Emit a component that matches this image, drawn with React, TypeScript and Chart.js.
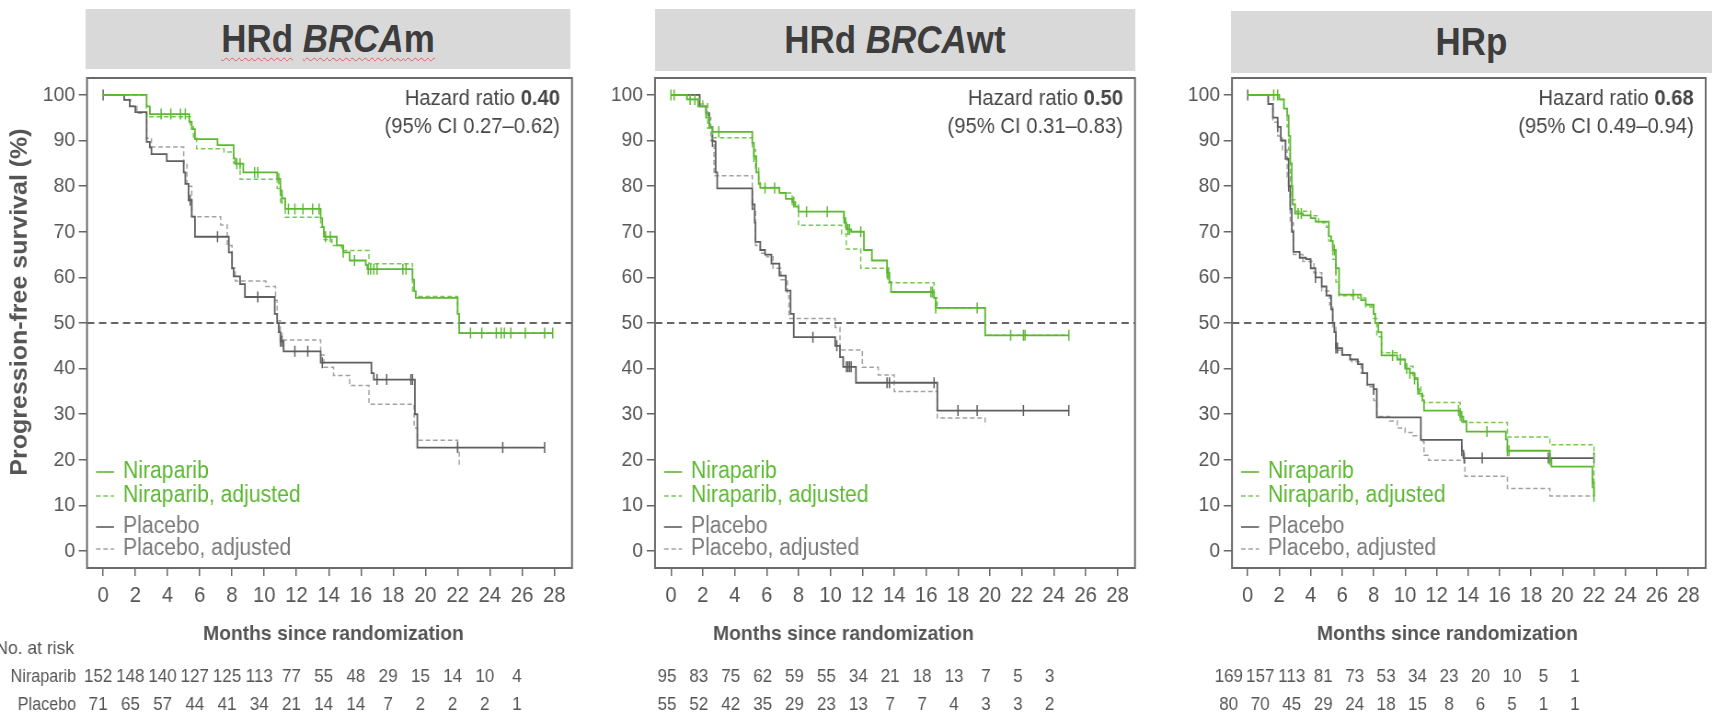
import React, { useEffect, useRef } from "react";
import { Chart, registerables } from "chart.js";
Chart.register(...registerables);

const SX = 0.92;
const PAGE_W = 1712;
const PAGE_H = 714;
const FONT = "'Liberation Sans', Arial, Helvetica, sans-serif";

const X_MIN = -1.0;
const X_MAX = 29.1;
const Y_MIN = -3.7;
const Y_MAX = 103.7;
const X_TICKS = [0, 2, 4, 6, 8, 10, 12, 14, 16, 18, 20, 22, 24, 26, 28];
const Y_TICKS = [0, 10, 20, 30, 40, 50, 60, 70, 80, 90, 100];
const RISK_TIMES = [0, 2, 4, 6, 8, 10, 12, 14, 16, 18, 20, 22, 24, 26];
const REF_Y = 50;

const GREEN = "#5cb832";
const GREEN_ADJ = "#78c850";
const GRAY = "#5e5e5e";
const GRAY_ADJ = "#a2a2a2";

type Step = [number, number];

// ---------- Panel 1: HRd BRCAm ----------
const P1_NIR: Step[] = [[0,100],[2.7,97.5],[2.9,95.8],[5.35,94.1],[5.5,92.5],[5.7,90.3],[7.1,89.0],[8.1,86.1],[8.2,84.9],[8.7,83.0],[10.8,81.6],[11.0,79.0],[11.1,77.3],[11.3,75.0],[13.5,73.0],[13.6,71.0],[13.7,68.9],[14.5,67.0],[14.9,65.5],[15.3,63.7],[16.3,62.7],[16.4,61.8],[19.2,59.5],[19.3,57.0],[19.4,55.5],[22.0,52.0],[22.1,47.8],[27.9,47.8]];
const P1_NIR_CENS = [3.6,4.2,4.8,5.1,8.3,8.5,9.4,9.6,10.9,11.0,11.1,11.5,11.9,12.4,13.0,13.4,13.8,14.1,14.9,15.6,16.45,16.6,16.8,17.0,18.6,18.8,22.8,23.5,24.4,24.7,24.9,25.3,26.2,27.4,27.9];
const P1_NIR_ADJ: Step[] = [[0,100],[2.7,97],[2.9,95.2],[5.4,93],[5.6,90.5],[5.8,88.2],[7.5,87.5],[8.1,85],[8.5,81.5],[10.8,79.5],[11.0,76.5],[11.3,73.2],[13.5,71],[13.7,68.3],[14.2,67],[14.8,65.9],[16.5,63],[19.2,57],[19.4,55.8],[22.0,52],[22.1,47.8],[27.9,47.8]];
const P1_PLA: Step[] = [[0,100],[1.3,98.9],[1.65,97.5],[2.0,96.2],[2.7,89.7],[2.9,88.5],[3.0,87.0],[3.95,85.5],[5.0,83.0],[5.1,80.5],[5.3,76.9],[5.5,73.3],[5.7,68.9],[7.8,65.5],[8.0,62.0],[8.1,60.2],[8.5,58.5],[8.8,55.7],[10.65,52.0],[10.8,50.0],[10.9,48.0],[11.0,46.0],[11.2,43.8],[13.5,41.3],[16.65,39.0],[16.8,37.6],[19.35,30.0],[19.5,22.7],[27.4,22.7]];
const P1_PLA_CENS = [0,5.4,7.1,9.6,11.0,11.1,11.9,12.7,13.6,17.0,17.6,19.1,19.2,22.0,24.8,27.4];
const P1_PLA_ADJ: Step[] = [[0,100],[1.3,99],[1.7,97.5],[2.1,96],[2.7,90.5],[3.0,88.6],[5.0,85.0],[5.2,80.0],[5.5,73.3],[7.3,71.5],[7.7,67.0],[8.0,62.0],[8.2,59.2],[10.1,58.0],[10.7,55.0],[10.8,50.5],[11.0,48.0],[11.1,46.3],[13.5,43.0],[13.7,40.3],[14.3,38.5],[15.3,36.3],[16.5,32.2],[19.3,27.0],[19.5,24.3],[22.0,22.0],[22.1,18.3]];
const P1_RISK_NIR = [152,148,140,127,125,113,77,55,48,29,15,14,10,4];
const P1_RISK_PLA = [71,65,57,44,41,34,21,14,14,7,2,2,2,1];

// ---------- Panel 2: HRd BRCAwt ----------
const P2_NIR: Step[] = [[0,100],[1.0,99],[1.7,97.5],[2.2,95],[2.4,93],[2.6,91.9],[5.1,89.5],[5.2,86.5],[5.35,83],[5.5,80.5],[5.6,79.6],[6.8,78.5],[7.2,77.2],[7.6,76.5],[7.8,75.5],[8.0,74.4],[10.85,73],[10.9,72],[11.0,70.5],[11.3,70],[12.1,66],[12.6,63.7],[13.55,61],[13.7,59],[13.8,56.8],[16.5,55.5],[16.6,53.3],[19.7,47.3],[24.95,47.3]];
const P2_NIR_CENS = [0,0.2,1.2,1.5,3.0,5.2,5.9,6.5,7.7,8.5,9.8,10.85,10.95,11.1,11.2,11.9,13.55,13.65,16.3,16.4,16.6,19.2,21.3,22.1,22.2,24.95];
const P2_NIR_ADJ: Step[] = [[0,100],[1.0,99],[2.0,98],[2.3,92.7],[2.6,90.6],[5.1,88],[5.3,84],[5.5,81],[5.6,79.7],[6.8,78.5],[7.6,76],[8.0,71.4],[10.7,69.5],[11.0,66.2],[11.9,62],[13.6,58.8],[16.5,55.5],[16.7,53.3],[19.7,47.3],[24.95,47.3]];
const P2_PLA: Step[] = [[0,100],[1.8,97.5],[2.2,96],[2.4,93],[2.6,89.8],[2.8,83],[2.9,79.5],[5.1,76],[5.25,72],[5.3,67.8],[5.6,66],[5.9,65],[6.3,63],[6.8,60.4],[7.2,57.1],[7.5,52],[7.7,46.9],[10.3,45],[10.6,42.5],[10.8,40.4],[11.6,36.9],[16.7,30.8],[24.95,30.8]];
const P2_PLA_CENS = [2.6,5.1,8.9,10.4,11.0,11.1,11.2,11.3,13.55,13.7,16.5,18.0,19.2,22.1,24.95];
const P2_PLA_ADJ: Step[] = [[0,100],[1.8,98],[2.3,95],[2.5,90],[2.7,82.3],[5.1,75],[5.3,67],[5.6,65.3],[6.0,64.5],[6.4,62],[6.9,59.5],[7.3,56],[7.4,51],[10.3,49],[10.6,44.1],[12.0,40.3],[13.0,38.6],[14.0,35.0],[16.7,29.2],[19.6,29.2],[19.7,27.5]];
const P2_RISK_NIR = [95,83,75,62,59,55,34,21,18,13,7,5,3];
const P2_RISK_PLA = [55,52,42,35,29,23,13,7,7,4,3,3,2];

// ---------- Panel 3: HRp ----------
const P3_NIR: Step[] = [[0,100],[2.0,99],[2.3,97],[2.5,95.5],[2.6,91],[2.7,85],[2.8,80],[2.85,76],[3.0,74],[3.5,73.6],[4.0,73],[4.3,72.2],[5.15,69],[5.3,68],[5.4,66],[5.6,62],[5.8,56.2],[7.2,55],[7.5,54],[8.0,52],[8.1,50],[8.3,48],[8.5,42.9],[9.5,42],[10.0,40],[10.3,39],[10.6,37.7],[10.8,35.5],[10.9,34.5],[11.1,33],[11.2,30.8],[13.5,29.5],[13.7,28.5],[13.9,26.2],[16.4,24.5],[16.5,22],[19.2,20],[19.3,18.5],[21.9,15],[22.0,12]];
const P3_NIR_CENS = [1.65,1.9,3.2,3.4,5.5,5.6,6.7,9.2,9.7,10.1,10.3,10.6,10.8,13.4,13.6,15.2,16.5,16.6,19.2,21.9,22.0];
const P3_NIR_ADJ: Step[] = [[0,100],[2.0,99],[2.3,97],[2.5,93],[2.6,88],[2.7,82],[2.8,77],[3.0,74.5],[4.0,73.5],[4.5,72],[5.0,71],[5.15,68],[5.4,64],[5.6,59],[5.8,56],[7.0,55.5],[7.5,53.5],[8.0,51],[8.2,47],[8.5,43.5],[9.5,42],[10.0,40.5],[10.5,38],[10.8,36],[11.0,34],[11.2,32.6],[13.5,28.2],[16.5,25.0],[19.2,23.3],[21.85,23.3],[22.0,12]];
const P3_PLA: Step[] = [[0,100],[1.3,98],[1.6,95],[1.9,93],[2.1,90],[2.4,86],[2.6,80],[2.7,75],[2.8,70],[2.9,65.6],[3.3,64.3],[3.7,64],[4.0,62],[4.3,60],[4.7,58],[5.0,56],[5.3,53],[5.4,50],[5.5,48],[5.6,44.5],[6.0,43],[6.5,42],[7.0,41],[7.3,39],[7.6,36.5],[8.0,35.5],[8.2,29.3],[11.0,24.4],[13.6,22],[13.7,20.4],[22.0,20.4]];
const P3_PLA_CENS = [0,1.9,2.6,4.3,5.6,5.7,8.0,13.6,13.75,14.9,19.1,19.2,22.0];
const P3_PLA_ADJ: Step[] = [[0,100],[1.3,98],[1.6,94],[1.9,91],[2.2,88],[2.5,82],[2.7,72],[2.9,65],[3.5,63.5],[4.2,61],[4.7,57],[5.2,54],[5.4,49],[5.6,44],[6.0,43],[6.6,41.5],[7.2,39],[7.6,36],[8.0,33],[8.2,29.5],[9.0,28.5],[9.5,27],[10.0,26],[10.5,25.3],[11.0,24],[11.2,21],[11.5,19.9],[13.8,16.4],[16.5,13.7],[19.2,12.1],[22.0,12.1]];
const P3_RISK_NIR = [169,157,113,81,73,53,34,23,20,10,5,1];
const P3_RISK_PLA = [80,70,45,29,24,18,15,8,6,5,1,1];

const LEGEND_LABELS = ["Niraparib", "Niraparib, adjusted", "Placebo", "Placebo, adjusted"];
const Y_TITLE = "Progression-free survival (%)";
const X_TITLE = "Months since randomization";

// ---------- layout (full-page px) ----------
const BOX_T = 78;
const BOX_B = 568;
const Y_W = 50; // unscaled y-scale width

interface PanelCfg {
  key: string;
  canvasL: number;
  canvasR: number;
  boxL: number;
  boxR: number;
  nir: Step[]; nirC: number[]; nirAdj: Step[];
  pla: Step[]; plaC: number[]; plaAdj: Step[];
  hr: string; ci: string;
  riskNir: number[]; riskPla: number[]; riskShift: number;
  xTitleL: number;
  first: boolean;
}

const PANELS: PanelCfg[] = [
  { key: "p1", canvasL: 0, canvasR: 640, boxL: 87, boxR: 572, nir: P1_NIR, nirC: P1_NIR_CENS, nirAdj: P1_NIR_ADJ, pla: P1_PLA, plaC: P1_PLA_CENS, plaAdj: P1_PLA_ADJ, hr: "0.40", ci: "(95% CI 0.27\u20130.62)", riskNir: P1_RISK_NIR, riskPla: P1_RISK_PLA, riskShift: -5, xTitleL: 203, first: true },
  { key: "p2", canvasL: 640, canvasR: 1280, boxL: 655, boxR: 1135, nir: P2_NIR, nirC: P2_NIR_CENS, nirAdj: P2_NIR_ADJ, pla: P2_PLA, plaC: P2_PLA_CENS, plaAdj: P2_PLA_ADJ, hr: "0.50", ci: "(95% CI 0.31\u20130.83)", riskNir: P2_RISK_NIR, riskPla: P2_RISK_PLA, riskShift: -4, xTitleL: 713, first: false },
  { key: "p3", canvasL: 1280, canvasR: Math.ceil(PAGE_W / SX), boxL: 1232, boxR: 1711, nir: P3_NIR, nirC: P3_NIR_CENS, nirAdj: P3_NIR_ADJ, pla: P3_PLA, plaC: P3_PLA_CENS, plaAdj: P3_PLA_ADJ, hr: "0.68", ci: "(95% CI 0.49\u20130.94)", riskNir: P3_RISK_NIR, riskPla: P3_RISK_PLA, riskShift: -19, xTitleL: 1317, first: false },
];

function sAt(steps: Step[], t: number): number {
  let v = steps[0][1];
  for (const [tt, s] of steps) {
    if (tt <= t + 1e-9) v = s;
    else break;
  }
  return v;
}

function buildPoints(steps: Step[], cens: number[] = []) {
  const pts = steps.map(([x, y]) => ({ x, y, c: false }));
  for (const t of cens) pts.push({ x: t, y: sAt(steps, t), c: true });
  pts.sort((a, b) => a.x - b.x || (a.c === b.c ? 0 : a.c ? 1 : -1));
  return pts;
}

function curve(data: any[], color: string, dashed: boolean) {
  return {
    data,
    borderColor: color,
    borderWidth: dashed ? 1.5 : 1.8,
    borderDash: dashed ? [5, 3] : [],
    stepped: "before" as const,
    fill: false,
    pointStyle: "line" as const,
    rotation: 90,
    pointRadius: (ctx: any) => (ctx.raw && ctx.raw.c ? 5.5 : 0),
    pointBorderColor: color,
    pointBackgroundColor: color,
    pointBorderWidth: 1.5,
    pointHoverRadius: 0,
  };
}

function makePlugin(p: PanelCfg) {
  const fx = (xFull: number) => xFull / SX - p.canvasL;
  return {
    id: "decor_" + p.key,
    afterDraw(chart: any) {
      const { ctx, chartArea: a, scales } = chart;
      const xs = scales.x;
      ctx.save();
      // plot box
      ctx.strokeStyle = "#6a6a6a";
      ctx.lineWidth = 2;
      ctx.strokeRect(a.left, a.top, a.right - a.left, a.bottom - a.top);

      // hazard ratio
      ctx.textBaseline = "middle";
      ctx.textAlign = "right";
      ctx.fillStyle = "#464646";
      const R = a.right - 12 / SX;
      ctx.font = `bold 22px ${FONT}`;
      const bw = ctx.measureText(p.hr).width;
      ctx.fillText(p.hr, R, 99);
      ctx.font = `22px ${FONT}`;
      ctx.fillText("Hazard ratio ", R - bw, 99);
      ctx.fillText(p.ci, R, 127);

      // legend inside box
      const legY = [472, 496, 527, 549];
      const legC = [GREEN, GREEN_ADJ, GRAY, GRAY_ADJ];
      const legT = [GREEN, GREEN, "#7a7a7a", "#7a7a7a"];
      ctx.textAlign = "left";
      ctx.font = `23px ${FONT}`;
      for (let i = 0; i < 4; i++) {
        ctx.beginPath();
        ctx.strokeStyle = legC[i];
        ctx.lineWidth = 1.6;
        ctx.setLineDash(i % 2 === 1 ? [5, 3] : []);
        ctx.moveTo(a.left + 9 / SX, legY[i]);
        ctx.lineTo(a.left + 27 / SX, legY[i]);
        ctx.stroke();
        ctx.setLineDash([]);
        ctx.fillStyle = legT[i];
        ctx.fillText(LEGEND_LABELS[i], a.left + 36 / SX, legY[i]);
      }

      // x axis title
      ctx.fillStyle = "#555";
      ctx.font = `bold 21px ${FONT}`;
      ctx.textAlign = "left";
      ctx.fillText(X_TITLE, fx(p.xTitleL), 634);

      // risk table
      ctx.font = `18.5px ${FONT}`;
      ctx.textAlign = "center";
      ctx.fillStyle = "#555";
      p.riskNir.forEach((v, i) => {
        ctx.fillText(String(v), xs.getPixelForValue(RISK_TIMES[i]) + p.riskShift / SX, 677);
      });
      p.riskPla.forEach((v, i) => {
        ctx.fillText(String(v), xs.getPixelForValue(RISK_TIMES[i]) + p.riskShift / SX, 705);
      });

      if (p.first) {
        ctx.textAlign = "right";
        ctx.font = `19px ${FONT}`;
        ctx.fillText("No. at risk", fx(74), 649);
        ctx.font = `17.5px ${FONT}`;
        ctx.fillText("Niraparib", fx(76), 677);
        ctx.fillText("Placebo", fx(76), 705);
        // y title
        ctx.save();
        ctx.translate(fx(20), 302);
        ctx.rotate(-Math.PI / 2);
        ctx.textAlign = "center";
        ctx.font = `bold 25px ${FONT}`;
        ctx.fillStyle = "#555";
        ctx.fillText(Y_TITLE, 0, 0);
        ctx.restore();
      }
      ctx.restore();
    },
  };
}

function PanelChart({ p }: { p: PanelCfg }) {
  const ref = useRef<HTMLCanvasElement | null>(null);
  const W = p.canvasR - p.canvasL;
  useEffect(() => {
    if (!ref.current) return;
    const padL = p.boxL / SX - p.canvasL - Y_W;
    const padR = p.canvasR - p.boxR / SX;
    const chart = new Chart(ref.current, {
      type: "line",
      data: {
        datasets: [
          curve(buildPoints(p.nir, p.nirC), GREEN, false),
          curve(buildPoints(p.nirAdj), GREEN_ADJ, true),
          curve(buildPoints(p.pla, p.plaC), GRAY, false),
          curve(buildPoints(p.plaAdj), GRAY_ADJ, true),
          {
            data: [{ x: X_MIN, y: REF_Y }, { x: X_MAX, y: REF_Y }],
            borderColor: "#333",
            borderWidth: 1.5,
            borderDash: [8, 5],
            pointRadius: 0,
            fill: false,
          },
        ] as any,
      },
      options: {
        animation: false,
        responsive: false,
        events: [],
        layout: { padding: { left: padL, right: padR, top: BOX_T, bottom: 0 } },
        plugins: { legend: { display: false }, tooltip: { enabled: false }, title: { display: false } },
        scales: {
          x: {
            type: "linear",
            min: X_MIN,
            max: X_MAX,
            afterBuildTicks: (s: any) => { s.ticks = X_TICKS.map((v) => ({ value: v })); },
            afterFit: (s: any) => { s.height = PAGE_H - BOX_B; },
            grid: { display: true, drawOnChartArea: false, drawTicks: true, tickLength: 8, color: "#666", lineWidth: 1.5 },
            border: { display: false },
            ticks: { autoSkip: false, maxRotation: 0, padding: 7, color: "#555", font: { family: FONT, size: 22 } },
          },
          y: {
            type: "linear",
            min: Y_MIN,
            max: Y_MAX,
            afterBuildTicks: (s: any) => { s.ticks = Y_TICKS.map((v) => ({ value: v })); },
            afterFit: (s: any) => { s.width = Y_W; },
            grid: { display: true, drawOnChartArea: false, drawTicks: true, tickLength: 9, color: "#666", lineWidth: 1.5 },
            border: { display: false },
            ticks: { autoSkip: false, padding: 4, color: "#555", font: { family: FONT, size: 21 } },
          },
        },
      } as any,
      plugins: [makePlugin(p)],
    });
    return () => chart.destroy();
  }, []);
  return (
    <canvas
      ref={ref}
      width={W}
      height={PAGE_H}
      style={{ position: "absolute", left: p.canvasL, top: 0, width: W, height: PAGE_H }}
    />
  );
}

const wavy: React.CSSProperties = {
  textDecorationLine: "underline",
  textDecorationStyle: "wavy",
  textDecorationColor: "#e06060",
  textDecorationThickness: "1px",
  textUnderlineOffset: "5px",
};

const TITLES = [
  { l: 86, t: 9, w: 484, h: 60, node: (<><span style={wavy}>HRd</span>{" "}<span style={wavy}><i>BRCA</i>m</span></>) },
  { l: 655, t: 9, w: 480, h: 62, node: (<>HRd <i>BRCA</i>wt</>) },
  { l: 1231, t: 11, w: 481, h: 62, node: (<>HRp</>) },
];

export default function App() {
  useEffect(() => {
    document.body.style.margin = "0";
    document.body.style.overflow = "hidden";
  }, []);
  return (
    <div style={{ position: "fixed", left: 0, top: 0, width: PAGE_W, height: PAGE_H, overflow: "hidden", background: "#fff" }}>
      <div style={{ position: "absolute", left: 0, top: 0, width: PAGE_W / SX, height: PAGE_H, transform: `scaleX(${SX})`, transformOrigin: "0 0" }}>
        {TITLES.map((t, i) => (
          <div key={i} style={{ position: "absolute", left: t.l / SX, top: t.t, width: t.w / SX, height: t.h, background: "#d9d9d9", display: "flex", alignItems: "center", justifyContent: "center", fontFamily: FONT, fontWeight: "bold", fontSize: 38, color: "#3d3d3d" }}>
            <span>{t.node}</span>
          </div>
        ))}
        {PANELS.map((p) => (
          <PanelChart key={p.key} p={p} />
        ))}
      </div>
    </div>
  );
}
